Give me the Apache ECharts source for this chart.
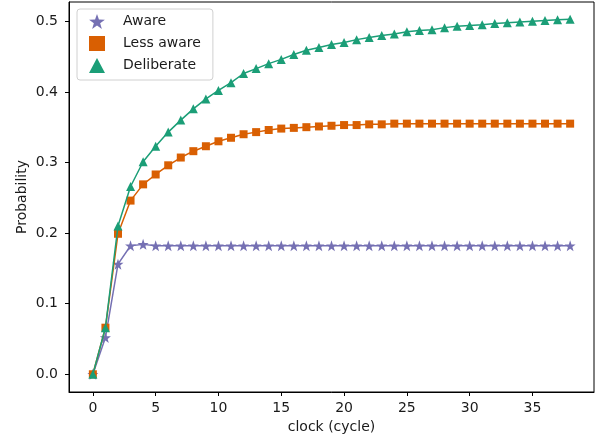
<!DOCTYPE html>
<html>
<head>
<meta charset="utf-8">
<script src="https://cdn.jsdelivr.net/npm/echarts@6/dist/echarts.min.js"></script>
<style>
  html, body { margin: 0; padding: 0; background: #fff; }
  #main { width: 600px; height: 442px; }
</style>
</head>
<body>
<div id="main"></div>
<script>
// clock cycles 0..38
var cycles = [];
for (var i = 0; i <= 38; i++) cycles.push(i);

var aware = [0, 0.052, 0.156, 0.182, 0.184, 0.182, 0.182, 0.182, 0.182, 0.182,
	0.182, 0.182, 0.182, 0.182, 0.182, 0.182, 0.182, 0.182, 0.182, 0.182,
	0.182, 0.182, 0.182, 0.182, 0.182, 0.182, 0.182, 0.182, 0.182, 0.182,
	0.182, 0.182, 0.182, 0.182, 0.182, 0.182, 0.182, 0.182, 0.182];
var lessAware = [0, 0.066, 0.199, 0.246, 0.269, 0.283, 0.296, 0.307, 0.316, 0.323,
	0.330, 0.335, 0.340, 0.343, 0.346, 0.348, 0.349, 0.350, 0.351, 0.352,
	0.353, 0.353, 0.354, 0.354, 0.355, 0.355, 0.355, 0.355, 0.355, 0.355,
	0.355, 0.355, 0.355, 0.355, 0.355, 0.355, 0.355, 0.355, 0.355];
var deliberate = [0, 0.066, 0.210, 0.266, 0.301, 0.323, 0.343, 0.360, 0.376, 0.390,
	0.402, 0.413, 0.426, 0.433, 0.440, 0.446, 0.453, 0.459, 0.463, 0.467,
	0.470, 0.474, 0.477, 0.480, 0.482, 0.485, 0.487, 0.488, 0.491, 0.493,
	0.494, 0.495, 0.497, 0.498, 0.499, 0.500, 0.501, 0.502, 0.503];

var xTicks = [0, 5, 10, 15, 20, 25, 30, 35];
var yTicks = [0, 0.1, 0.2, 0.3, 0.4, 0.5];

var names = ['Aware', 'Less aware', 'Deliberate'];
var colors = ['#7570b3', '#d95f02', '#1b9e77'];
var starPath = 'path://M0,-10L2.35,-3.24L9.51,-3.09L3.8,1.24L5.88,8.09L0,4L-5.88,8.09L-3.8,1.24L-9.51,-3.09L-2.35,-3.24Z';
var symbols = [starPath, 'rect', 'triangle'];
var symbolSizes = [11, 8, 9];
var allData = [aware, lessAware, deliberate];

var font = 'DejaVu Sans';
var txt = '#1a1a1a';

var series = [];
for (var s = 0; s < 3; s++) {
	series.push({
		name: names[s],
		type: 'line',
		data: cycles.map(function (c, k) { return [c, allData[s][k]]; }),
		symbol: symbols[s],
		symbolSize: symbolSizes[s],
		showAllSymbol: true,
		color: colors[s],
		lineStyle: { width: 1.5, color: colors[s] },
		itemStyle: { color: colors[s] },
		animation: false,
		z: 2 + s
	});
}

var myChart = echarts.init(document.getElementById('main'), null, { renderer: 'canvas' });
var option = {
	backgroundColor: '#fff',
	animation: false,
	grid: {
		left: 69, right: 6, top: 2, bottom: 50,
		show: true, borderColor: '#000', borderWidth: 1, backgroundColor: 'transparent'
	},
	legend: {
		left: 77, top: 9,
		orient: 'vertical',
		itemWidth: 16, itemHeight: 15, itemGap: 7,
		padding: [5, 12, 7, 12],
		borderColor: '#d0d0d0', borderWidth: 1, borderRadius: 3,
		backgroundColor: 'rgba(255,255,255,0.8)',
		textStyle: { fontFamily: font, fontSize: 14, color: txt, padding: [0, 0, 0, 13] },
		data: names.map(function (n, k) { return { name: n, icon: symbols[k] }; })
	},
	xAxis: {
		type: 'value',
		min: -1.9, max: 39.9,
		name: 'clock (cycle)',
		nameLocation: 'middle',
		nameGap: 28,
		nameMoveOverlap: false,
		nameTextStyle: { fontFamily: font, fontSize: 14, color: txt },
		axisLine: { show: true, onZero: false, lineStyle: { color: '#000', width: 1 } },
		axisTick: { show: true, length: 4, lineStyle: { color: '#000' }, customValues: xTicks },
		axisLabel: { fontFamily: font, fontSize: 14, color: txt, margin: 9, customValues: xTicks },
		splitLine: { show: false }
	},
	yAxis: {
		type: 'value',
		min: -0.0251, max: 0.5273,
		name: 'Probability',
		nameLocation: 'middle',
		nameGap: 40,
		nameMoveOverlap: false,
		nameTextStyle: { fontFamily: font, fontSize: 14, color: txt },
		axisLine: { show: true, onZero: false, lineStyle: { color: '#000', width: 1 } },
		axisTick: { show: true, length: 4, lineStyle: { color: '#000' }, customValues: yTicks },
		axisLabel: {
			fontFamily: font, fontSize: 14, color: txt, margin: 11,
			customValues: yTicks,
			formatter: function (v) { return v.toFixed(1); }
		},
		splitLine: { show: false }
	},
	series: series
};
myChart.setOption(option);
</script>
</body>
</html>
